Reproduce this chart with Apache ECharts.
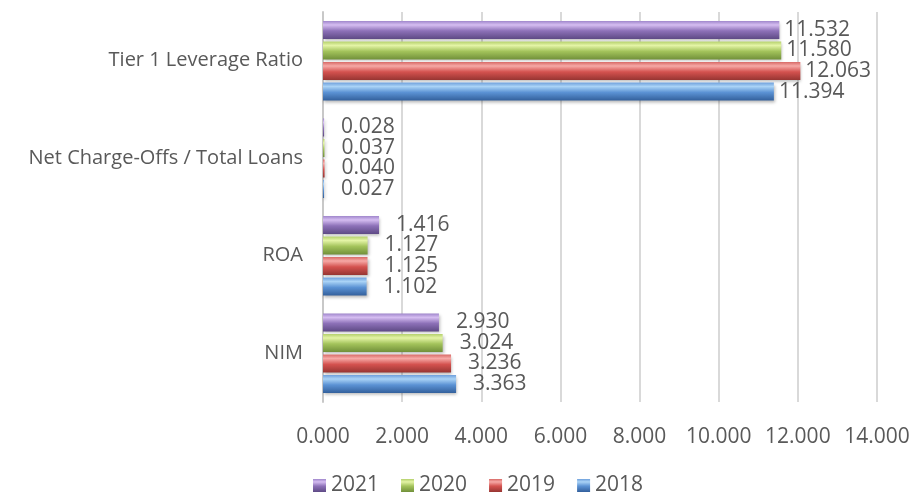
<!DOCTYPE html>
<html>
<head>
<meta charset="utf-8">
<script src="https://cdn.jsdelivr.net/npm/echarts@6/dist/echarts.min.js"></script>
<style>
html,body{margin:0;padding:0;background:#fff;}
#main{width:915px;height:496px;}
</style>
</head>
<body>
<div id="main"></div>
<script>
const categories = ['NIM', 'ROA', 'Net Charge-Offs / Total Loans', 'Tier 1 Leverage Ratio'];
const seriesNames = ['2021', '2020', '2019', '2018'];
const values2018 = [3.363, 1.102, 0.027, 11.394];
const values2019 = [3.236, 1.125, 0.040, 12.063];
const values2020 = [3.024, 1.127, 0.037, 11.580];
const values2021 = [2.930, 1.416, 0.028, 11.532];
const xTicks = { min: 0, max: 14, interval: 2 };
const legendOrder = ['2021', '2020', '2019', '2018'];

const FONT = '"Open Sans", "Liberation Sans", sans-serif';
const TXT = '#595959';

function grad(top, hi, mid, bot) {
  return new echarts.graphic.LinearGradient(0, 0, 0, 1, [
    { offset: 0, color: top },
    { offset: 0.22, color: hi },
    { offset: 0.55, color: mid },
    { offset: 1, color: bot }
  ]);
}
const palette = {
  '2018': grad('#6fa0dc', '#aad3f6', '#5b92d4', '#33609c'),
  '2019': grad('#d86a67', '#f6a9a6', '#d4524f', '#973532'),
  '2020': grad('#b4d06c', '#e4f4a6', '#a3c35b', '#71903a'),
  '2021': grad('#9f86cb', '#d5bdf1', '#8d71b8', '#5e4a85')
};
const allValues = { '2018': values2018, '2019': values2019, '2020': values2020, '2021': values2021 };

const series = seriesNames.map(name => ({
  name: name,
  type: 'bar',
  barWidth: 18,
  barGap: '14%',
  data: allValues[name].map((v, i) => ({
    value: v,
    label: { distance: i === 3 ? 5 : 17 }
  })),
  itemStyle: {
    color: palette[name],
    shadowColor: 'rgba(0,0,0,0.28)',
    shadowBlur: 3,
    shadowOffsetX: 1,
    shadowOffsetY: 2
  },
  label: {
    show: true,
    position: 'right',
    formatter: p => p.value.toFixed(3),
    fontFamily: FONT,
    fontSize: 21,
    color: TXT
  }
}));

const chart = echarts.init(document.getElementById('main'));
chart.setOption({
  animation: false,
  backgroundColor: '#fff',
  grid: { left: 323, right: 38, top: 12, bottom: 94, containLabel: false },
  legend: {
    data: legendOrder,
    bottom: -5,
    left: 308,
    itemWidth: 13,
    itemHeight: 13,
    itemGap: 22,
    icon: 'rect',
    textStyle: { fontFamily: FONT, fontSize: 21, color: TXT }
  },
  xAxis: {
    type: 'value',
    min: xTicks.min,
    max: xTicks.max,
    interval: xTicks.interval,
    axisLine: { show: false },
    axisTick: { show: false },
    splitLine: { show: true, lineStyle: { color: '#d9d9d9', width: 2 } },
    axisLabel: {
      formatter: v => v.toFixed(3),
      fontFamily: FONT,
      fontSize: 21,
      color: TXT,
      margin: 25
    }
  },
  yAxis: {
    type: 'category',
    data: categories,
    axisLine: { show: true, lineStyle: { color: '#c8c8c8', width: 2 } },
    axisTick: { show: false },
    axisLabel: { fontFamily: FONT, fontSize: 20, color: TXT, margin: 20 }
  },
  series: series
});
</script>
</body>
</html>
